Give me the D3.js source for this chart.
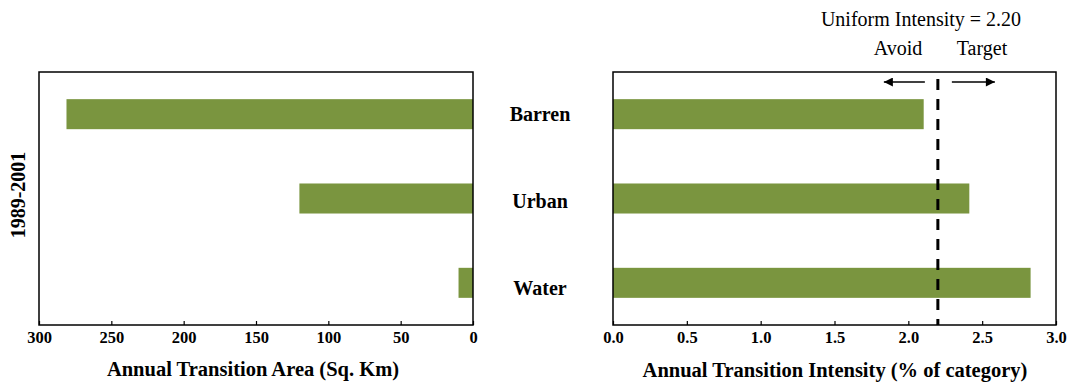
<!DOCTYPE html>
<html>
<head>
<meta charset="utf-8">
<script src="https://cdn.jsdelivr.net/npm/d3@7"></script>
<style>
  body { margin: 0; background: #fff; }
  svg { display: block; }
  text { font-family: "Liberation Serif", "Times New Roman", serif; fill: #000; }
</style>
</head>
<body>
<svg id="chart" width="1073" height="386"></svg>
<script>
const categories = ["Barren", "Urban", "Water"];
const areaValues = [281, 120, 10];
const intensityValues = [2.104, 2.413, 2.828];
const uniformIntensity = 2.20;
const areaTicks = [300, 250, 200, 150, 100, 50, 0];
const intensityTicks = [0, 0.5, 1.0, 1.5, 2.0, 2.5, 3.0];
const periodLabel = "1989-2001";

const barColor = "#7a953f";
const svg = d3.select("#chart");

const plotTop = 72, plotBottom = 325;
const y = d3.scaleBand().domain(categories).range([plotTop, plotBottom])
  .paddingInner(0.644).paddingOuter(0.322);
const yLabel = d3.scalePoint().domain(categories).range([114, 288]);

const xL = d3.scaleLinear().domain([300, 0]).range([39, 473]);
const xR = d3.scaleLinear().domain([0, 3]).range([613, 1056]);

// Left bars
svg.append("g").selectAll("rect").data(categories).join("rect")
  .attr("x", (d, i) => xL(areaValues[i]))
  .attr("width", (d, i) => xL(0) - xL(areaValues[i]))
  .attr("y", d => y(d))
  .attr("height", y.bandwidth())
  .attr("fill", barColor);

// Right bars
svg.append("g").selectAll("rect").data(categories).join("rect")
  .attr("x", xR(0))
  .attr("width", (d, i) => xR(intensityValues[i]) - xR(0))
  .attr("y", d => y(d))
  .attr("height", y.bandwidth())
  .attr("fill", barColor);

// Axes
function styleAxis(g) {
  g.select(".domain").remove();
  g.selectAll(".tick line").attr("stroke", "#000").attr("stroke-width", 1.2);
  g.selectAll(".tick text").attr("font-size", 16.5).attr("font-weight", "bold")
    .attr("font-family", "Liberation Serif, Times New Roman, serif");
}
svg.append("g").attr("transform", `translate(0,${plotBottom})`)
  .call(d3.axisBottom(xL).tickValues(areaTicks).tickFormat(d3.format("d"))
    .tickSizeInner(-4).tickSizeOuter(0).tickPadding(6))
  .call(styleAxis);
svg.append("g").attr("transform", `translate(0,${plotBottom})`)
  .call(d3.axisBottom(xR).tickValues(intensityTicks).tickFormat(d3.format(".1f"))
    .tickSizeInner(-4).tickSizeOuter(0).tickPadding(6))
  .call(styleAxis);

// Frames
svg.append("rect").attr("x", xL(300)).attr("y", plotTop)
  .attr("width", xL(0) - xL(300)).attr("height", plotBottom - plotTop)
  .attr("fill", "none").attr("stroke", "#000").attr("stroke-width", 1.5);
svg.append("rect").attr("x", xR(0)).attr("y", plotTop)
  .attr("width", xR(3) - xR(0)).attr("height", plotBottom - plotTop)
  .attr("fill", "none").attr("stroke", "#000").attr("stroke-width", 1.5);

// Category labels
svg.append("g").selectAll("text").data(categories).join("text")
  .attr("x", 540)
  .attr("y", d => yLabel(d))
  .attr("dy", "0.35em")
  .attr("text-anchor", "middle")
  .attr("font-size", 20).attr("font-weight", "bold")
  .text(d => d);

// Dashed uniform line
const ux = xR(uniformIntensity);
svg.append("line").attr("x1", ux).attr("x2", ux).attr("y1", 79).attr("y2", plotBottom)
  .attr("stroke", "#000").attr("stroke-width", 3).attr("stroke-dasharray", "11,9");

// Arrows
const defs = svg.append("defs");
defs.append("marker").attr("id", "arr").attr("viewBox", "0 0 10 10")
  .attr("refX", 10).attr("refY", 5).attr("markerWidth", 11).attr("markerHeight", 9)
  .attr("markerUnits", "userSpaceOnUse").attr("orient", "auto")
  .append("path").attr("d", "M0,0L10,5L0,10Z").attr("fill", "#000");
svg.append("line").attr("x1", ux - 13).attr("x2", ux - 54).attr("y1", 82).attr("y2", 82)
  .attr("stroke", "#000").attr("stroke-width", 1.6).attr("marker-end", "url(#arr)");
svg.append("line").attr("x1", ux + 14).attr("x2", ux + 57).attr("y1", 82).attr("y2", 82)
  .attr("stroke", "#000").attr("stroke-width", 1.6).attr("marker-end", "url(#arr)");

// Annotation text
svg.append("text").attr("x", 921).attr("y", 26).attr("text-anchor", "middle")
  .attr("font-size", 20).text(`Uniform Intensity = ${uniformIntensity.toFixed(2)}`);
svg.append("text").attr("x", 898).attr("y", 55).attr("text-anchor", "middle")
  .attr("font-size", 20).text("Avoid");
svg.append("text").attr("x", 982).attr("y", 55).attr("text-anchor", "middle")
  .attr("font-size", 20).text("Target");

// Axis titles
svg.append("text").attr("x", 253).attr("y", 376).attr("text-anchor", "middle")
  .attr("font-size", 20.5).attr("font-weight", "bold").text("Annual Transition Area (Sq. Km)");
svg.append("text").attr("x", 835).attr("y", 377).attr("text-anchor", "middle")
  .attr("font-size", 20.5).attr("font-weight", "bold").text("Annual Transition Intensity (% of category)");

// Period label
svg.append("text").attr("transform", "translate(25,195) rotate(-90)")
  .attr("text-anchor", "middle").attr("font-size", 20).attr("font-weight", "bold")
  .text(periodLabel);
</script>
</body>
</html>
